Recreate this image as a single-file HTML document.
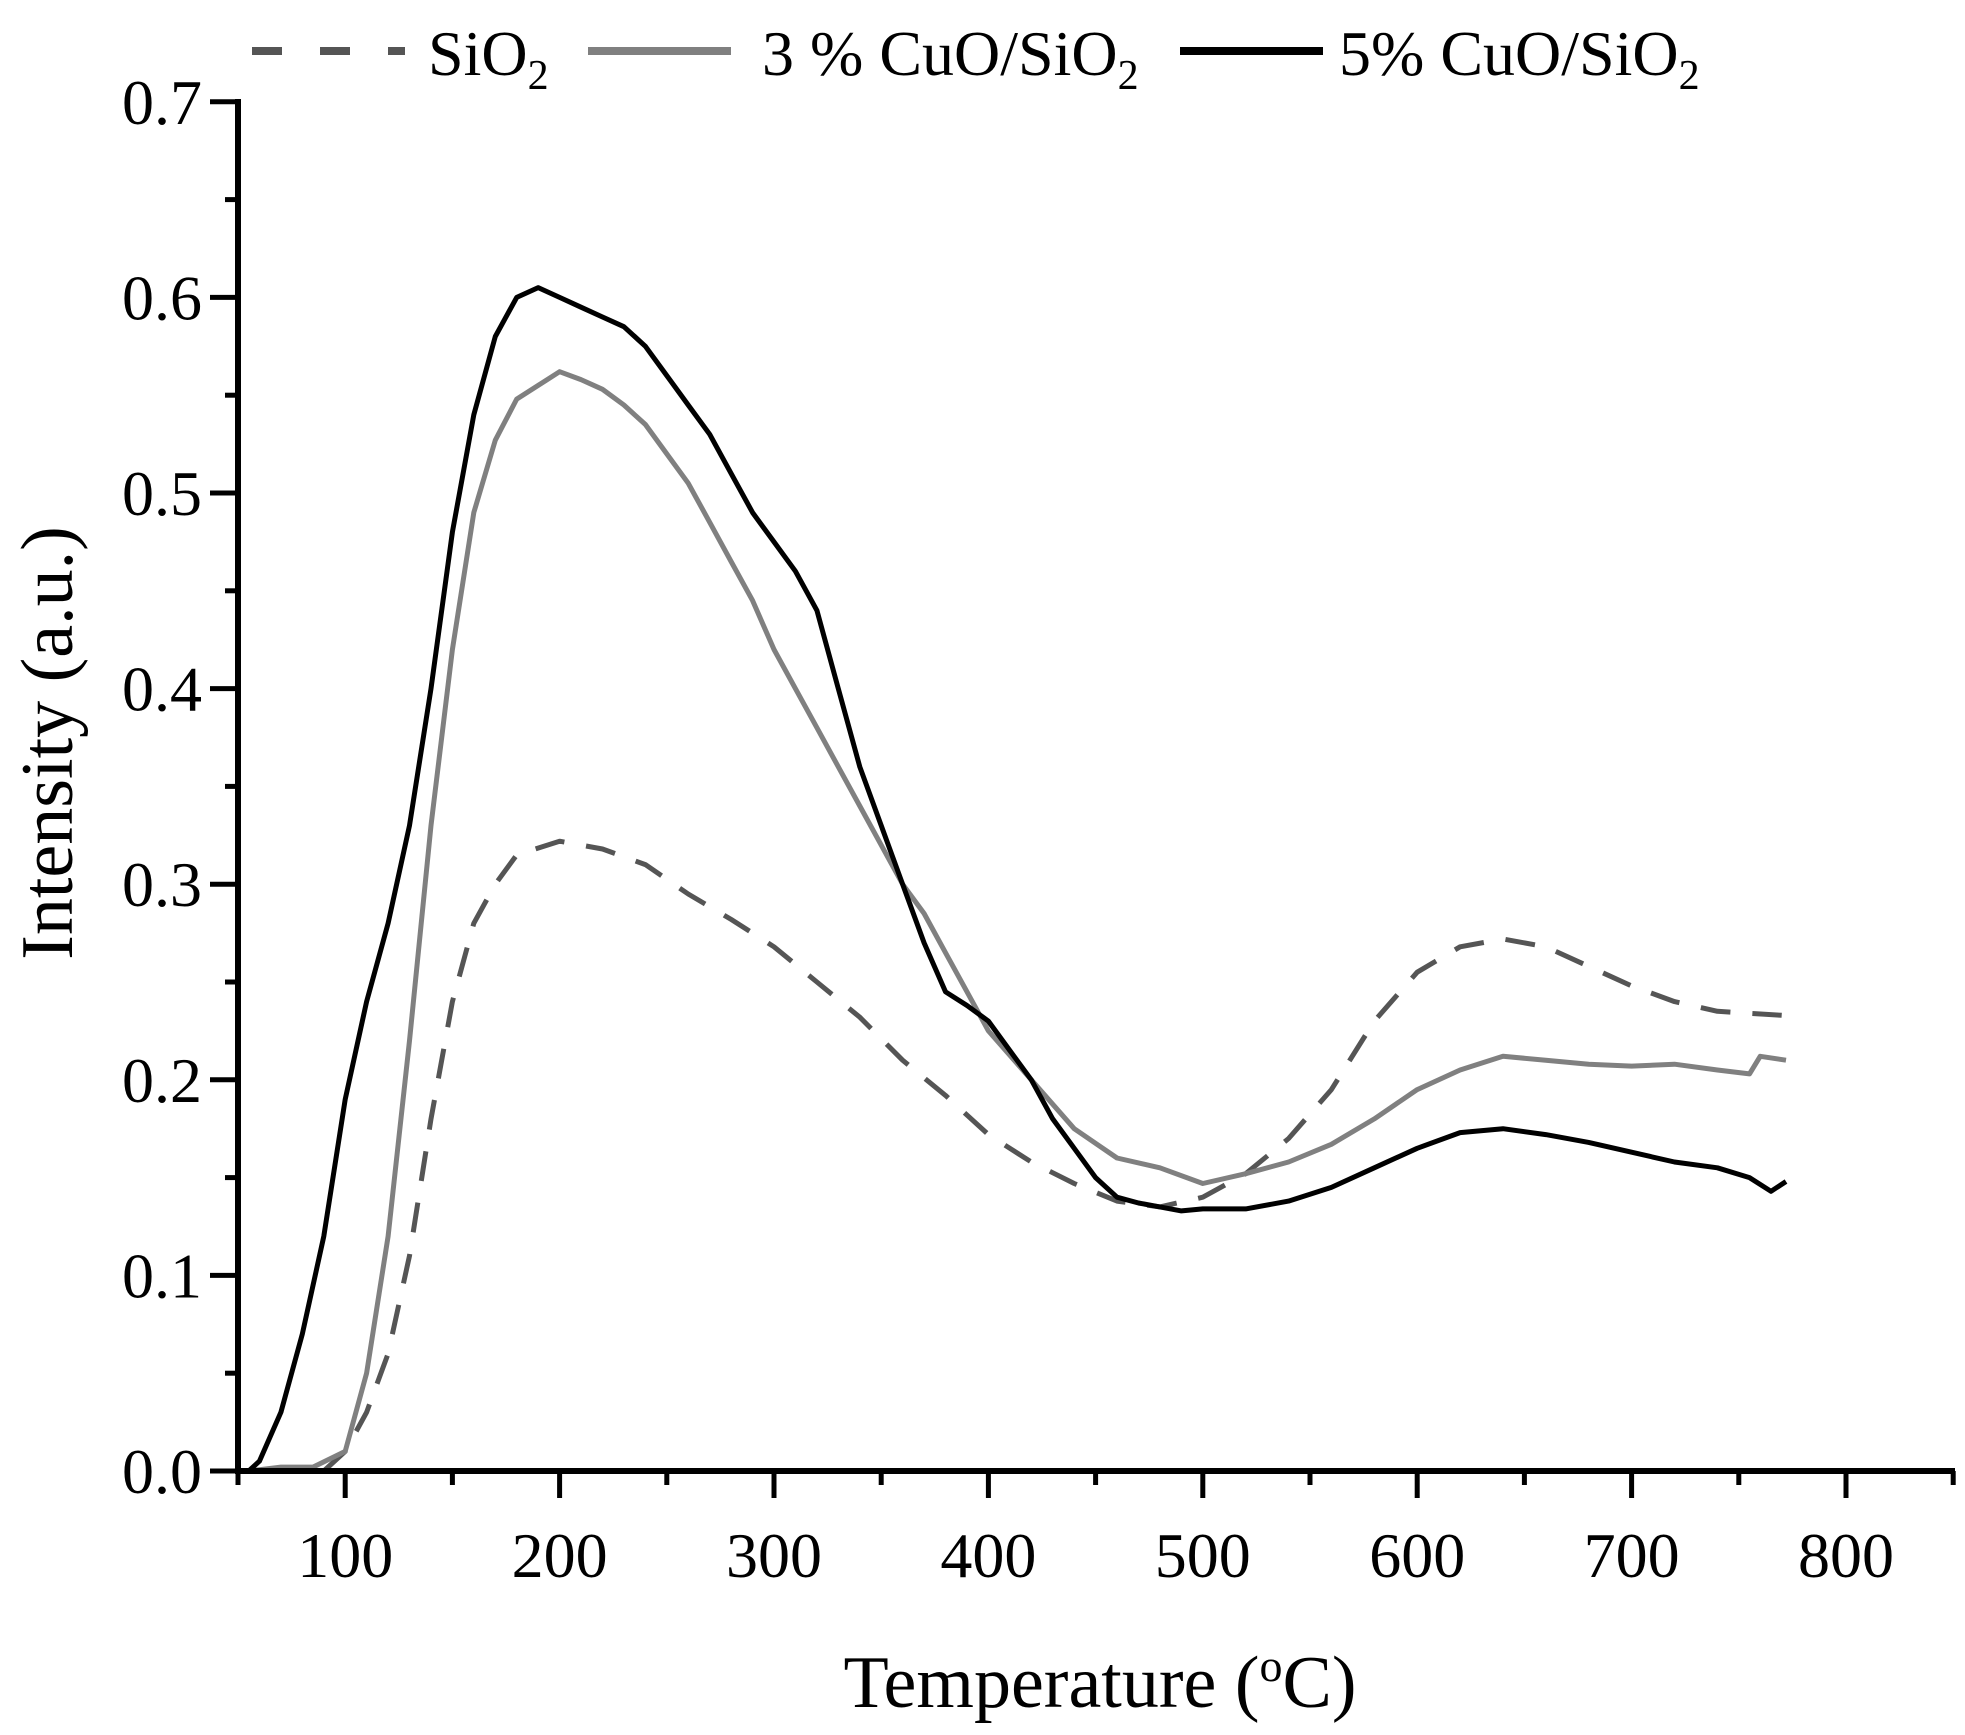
<!DOCTYPE html>
<html><head><meta charset="utf-8"><style>
html,body{margin:0;padding:0;background:#fff}
svg{display:block}
text{font-family:"Liberation Serif",serif;fill:#000}
</style></head><body>
<svg id="s" width="1965" height="1735" viewBox="0 0 1965 1735" xmlns="http://www.w3.org/2000/svg">
<g id="g"></g>
</svg>
<script>
const X=T=>238+(T-50)*2.144, Y=I=>1471-I*1956;
const g=document.getElementById('g');
let h='';
function pts(a){let d='';for(let i=0;i<a.length;i+=2)d+=(i?'L':'M')+X(a[i]).toFixed(1)+','+Y(a[i+1]).toFixed(1);return d;}
const blk=[55,0,60,0.005,70,0.03,80,0.07,90,0.12,100,0.19,110,0.24,120,0.28,130,0.33,140,0.40,150,0.48,160,0.54,170,0.58,180,0.60,190,0.605,200,0.60,210,0.595,220,0.59,230,0.585,240,0.575,250,0.56,260,0.545,270,0.53,280,0.51,290,0.49,300,0.475,310,0.46,320,0.44,330,0.40,340,0.36,350,0.33,360,0.30,370,0.27,380,0.245,390,0.238,400,0.23,410,0.215,420,0.20,430,0.18,440,0.165,450,0.15,460,0.14,470,0.137,480,0.135,490,0.133,500,0.134,520,0.134,540,0.138,560,0.145,580,0.155,600,0.165,620,0.173,640,0.175,660,0.172,680,0.168,700,0.163,720,0.158,740,0.155,755,0.15,765,0.143,772,0.148];
const gry=[55,0,70,0.002,85,0.002,100,0.01,110,0.05,120,0.12,130,0.22,140,0.33,150,0.42,160,0.49,170,0.527,180,0.548,190,0.555,200,0.562,210,0.558,220,0.553,230,0.545,240,0.535,250,0.52,260,0.505,270,0.485,280,0.465,290,0.445,300,0.42,310,0.40,320,0.38,330,0.36,340,0.34,350,0.32,360,0.30,370,0.285,380,0.265,390,0.245,400,0.225,420,0.20,440,0.175,460,0.16,480,0.155,500,0.147,520,0.152,540,0.158,560,0.167,580,0.18,600,0.195,620,0.205,640,0.212,660,0.21,680,0.208,700,0.207,720,0.208,740,0.205,755,0.203,760,0.212,772,0.21];
const sio=[90,0,100,0.01,110,0.03,120,0.06,130,0.11,140,0.18,150,0.24,160,0.28,170,0.30,180,0.315,200,0.322,220,0.318,240,0.31,260,0.295,280,0.282,300,0.268,320,0.25,340,0.232,360,0.21,380,0.192,400,0.172,420,0.158,440,0.147,460,0.138,480,0.135,500,0.14,520,0.152,540,0.17,560,0.195,580,0.23,600,0.255,620,0.268,640,0.272,660,0.268,680,0.258,700,0.248,720,0.24,740,0.235,770,0.233];
h+=`<path d="${pts(sio)}" fill="none" stroke="#555" stroke-width="5" stroke-dasharray="30,22" stroke-linejoin="round"/>`;
h+=`<path d="${pts(gry)}" fill="none" stroke="#808080" stroke-width="5" stroke-linejoin="round"/>`;
h+=`<path d="${pts(blk)}" fill="none" stroke="#000" stroke-width="5" stroke-linejoin="round"/>`;
h+=`<line x1="238" y1="99" x2="238" y2="1474" stroke="#000" stroke-width="6"/>`;
h+=`<line x1="235" y1="1471" x2="1955" y2="1471" stroke="#000" stroke-width="6"/>`;
for(let i=0;i<=14;i++){const v=i*0.05,y=Y(v),maj=i%2==0;
 h+=`<line x1="${maj?210:225}" y1="${y}" x2="238" y2="${y}" stroke="#000" stroke-width="5"/>`;
 if(maj)h+=`<text x="202" y="${y+22}" font-size="64" text-anchor="end">${v.toFixed(1)}</text>`;}
for(let T=50;T<=850;T+=50){const x=X(T),maj=T%100==0;
 h+=`<line x1="${x}" y1="1471" x2="${x}" y2="${maj?1498:1485}" stroke="#000" stroke-width="5"/>`;
 if(maj)h+=`<text x="${x}" y="1577" font-size="64" text-anchor="middle">${T}</text>`;}
h+=`<text x="1100" y="1707" font-size="74" text-anchor="middle">Temperature (<tspan font-size="46" dy="-26">o</tspan><tspan dy="26">C)</tspan></text>`;
h+=`<text transform="translate(72,743) rotate(-90)" font-size="74" text-anchor="middle">Intensity (a.u.)</text>`;
h+=`<line x1="252" y1="51" x2="405" y2="51" stroke="#555" stroke-width="8" stroke-dasharray="30,38"/>`;
h+=`<text x="428" y="75" font-size="64">SiO<tspan font-size="42" dy="14">2</tspan></text>`;
h+=`<line x1="588" y1="51" x2="731" y2="51" stroke="#808080" stroke-width="8"/>`;
h+=`<text x="762" y="75" font-size="64">3 % CuO/SiO<tspan font-size="42" dy="14">2</tspan></text>`;
h+=`<line x1="1180" y1="51" x2="1323" y2="51" stroke="#000" stroke-width="8"/>`;
h+=`<text x="1339" y="75" font-size="64">5% CuO/SiO<tspan font-size="42" dy="14">2</tspan></text>`;
g.innerHTML=h;
</script>
</body></html>
